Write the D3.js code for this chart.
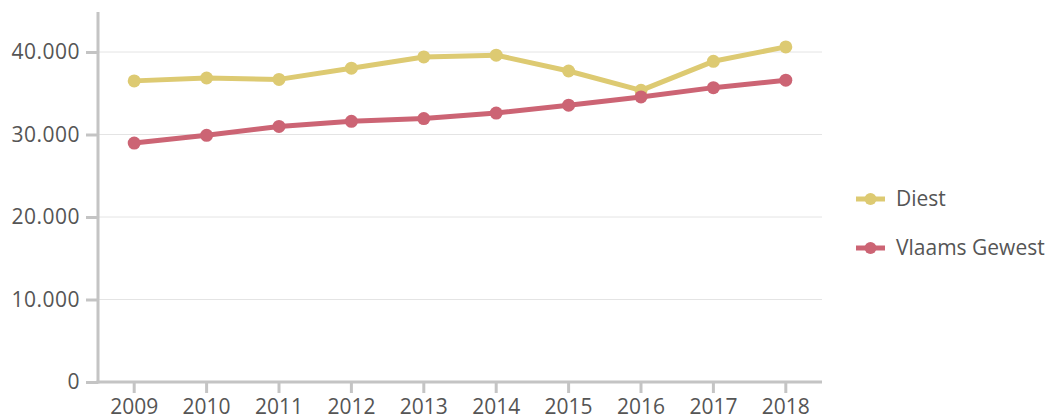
<!DOCTYPE html>
<html>
<head>
<meta charset="utf-8">
<script src="https://cdn.jsdelivr.net/npm/d3@7"></script>
<style>
  html, body { margin: 0; padding: 0; background: #fff; }
  svg { display: block; }
  text { font-family: "Open Sans", sans-serif; fill: #555; }
</style>
</head>
<body>
<svg id="chart" width="1052" height="419"></svg>
<script>
// Years along the x axis
const years = ["2009", "2010", "2011", "2012", "2013", "2014", "2015", "2016", "2017", "2018"];
// Series values per year
const diest = [36500, 36850, 36680, 38040, 39400, 39620, 37700, 35350, 38870, 40620];
const vlaamsGewest = [28960, 29900, 30980, 31600, 31930, 32600, 33550, 34550, 35680, 36580];
// Y axis ticks
const yTicks = [0, 10000, 20000, 30000, 40000];
const seriesNames = ["Diest", "Vlaams Gewest"];
const seriesColors = ["#ddca72", "#cc6474"];

const fontSize = 21;
const svg = d3.select("#chart");
const plotLeft = 98, plotRight = 822, plotTop = 12, plotBottom = 382;

const x = d3.scaleBand().domain(years).range([plotLeft, plotRight]).padding(0);
const y = d3.scaleLinear().domain([0, 40000]).range([plotBottom, 52]);

const fmt = v => d3.format(",")(v).replace(/,/g, ".");

// Gridlines
svg.append("g")
  .selectAll("line")
  .data(yTicks.filter(d => d > 0))
  .join("line")
  .attr("x1", plotLeft).attr("x2", plotRight)
  .attr("y1", d => y(d)).attr("y2", d => y(d))
  .attr("stroke", "#e4e4e4").attr("stroke-width", 1);

// Y axis
const yAxis = svg.append("g")
  .attr("transform", `translate(${plotLeft},0)`)
  .call(d3.axisLeft(y).tickValues(yTicks).tickFormat(fmt).tickSize(12).tickPadding(6));
yAxis.select(".domain").remove();
yAxis.selectAll(".tick line").attr("stroke", "#c4c4c4").attr("stroke-width", 3);
yAxis.selectAll(".tick text")
  .attr("font-size", fontSize)
  .attr("font-family", "'Open Sans', sans-serif")
  .attr("letter-spacing", "0.5px")
  .style("fill", "#555");
svg.append("line")
  .attr("x1", plotLeft).attr("x2", plotLeft).attr("y1", plotTop).attr("y2", plotBottom + 1.5)
  .attr("stroke", "#c4c4c4").attr("stroke-width", 3);

// X axis
const xAxis = svg.append("g")
  .attr("transform", `translate(0,${plotBottom})`)
  .call(d3.axisBottom(x).tickSize(11).tickPadding(6));
xAxis.select(".domain").remove();
xAxis.selectAll(".tick line").attr("stroke", "#c4c4c4").attr("stroke-width", 3);
xAxis.selectAll(".tick text")
  .attr("font-size", fontSize)
  .attr("font-family", "'Open Sans', sans-serif")
  .style("fill", "#555");
svg.append("line")
  .attr("x1", plotLeft - 1.5).attr("x2", plotRight).attr("y1", plotBottom).attr("y2", plotBottom)
  .attr("stroke", "#c4c4c4").attr("stroke-width", 3);

// Series lines and markers
const cx = d => x(d) + x.bandwidth() / 2;
const series = [diest, vlaamsGewest];
series.forEach((vals, i) => {
  const pts = years.map((yr, j) => [cx(yr), y(vals[j])]);
  svg.append("path")
    .attr("d", d3.line()(pts))
    .attr("fill", "none")
    .attr("stroke", seriesColors[i])
    .attr("stroke-width", 5)
    .attr("stroke-linejoin", "round");
  svg.append("g").selectAll("circle")
    .data(pts)
    .join("circle")
    .attr("cx", d => d[0]).attr("cy", d => d[1]).attr("r", 6.5)
    .attr("fill", seriesColors[i]);
});

// Legend
const legend = svg.append("g");
seriesNames.forEach((name, i) => {
  const ly = 199 + i * 49;
  legend.append("line")
    .attr("x1", 856).attr("x2", 885).attr("y1", ly).attr("y2", ly)
    .attr("stroke", seriesColors[i]).attr("stroke-width", 5);
  legend.append("circle")
    .attr("cx", 870.5).attr("cy", ly).attr("r", 6)
    .attr("fill", seriesColors[i]);
  legend.append("text")
    .attr("x", 896).attr("y", ly + 7)
    .attr("font-size", fontSize)
    .text(name);
});
</script>
</body>
</html>
